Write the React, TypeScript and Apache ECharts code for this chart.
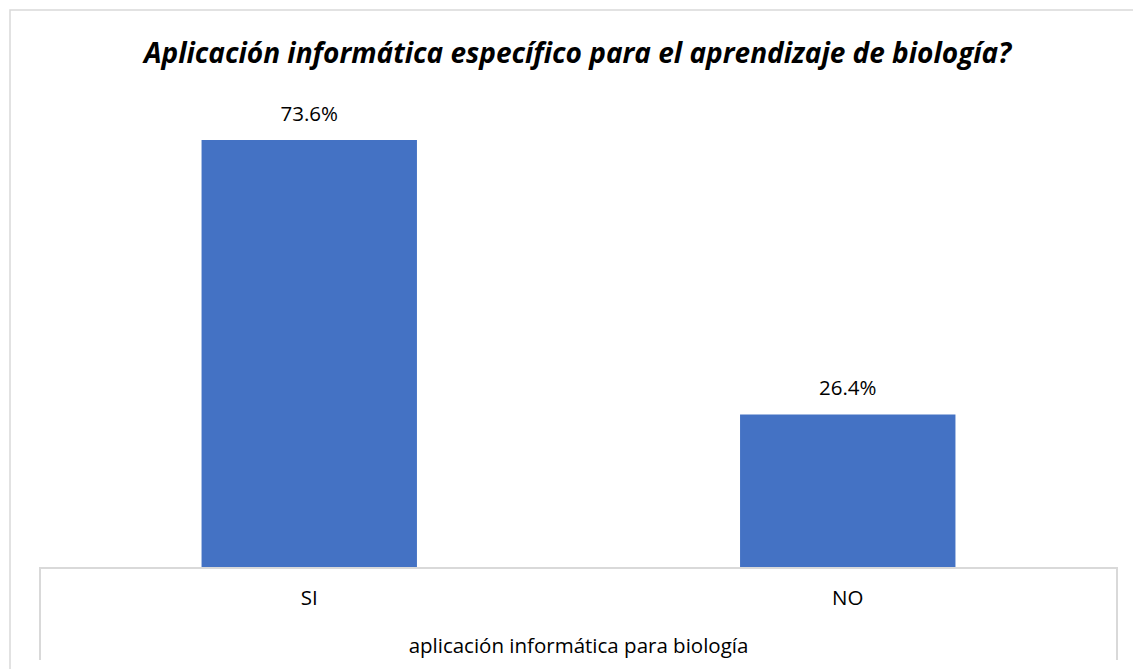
import React, { useEffect, useRef } from "react";
import * as echarts from "echarts";

const categories = ["SI", "NO"];
const values = [73.6, 26.4];
const titleText = "Aplicación informática específico para el aprendizaje de biología?";
const axisTitle = "aplicación informática para biología";

export default function App() {
  const ref = useRef<HTMLDivElement>(null);
  useEffect(() => {
    const chart = echarts.init(ref.current!, null, { renderer: "svg" });
    const font = "'Open Sans', 'Noto Sans', sans-serif";
    chart.setOption({
      animation: false,
      backgroundColor: "#ffffff",
      grid: { left: 40, right: 16, top: 102.8, bottom: 101, containLabel: false },
      xAxis: {
        type: "category",
        data: categories,
        axisLine: { show: false },
        axisTick: { show: false },
        axisLabel: { fontFamily: font, fontSize: 20.5, color: "#000", margin: 18 },
        name: axisTitle,
        nameLocation: "middle",
        nameGap: 66,
        nameTextStyle: { fontFamily: font, fontSize: 20.5, color: "#000" },
      },
      yAxis: {
        type: "value",
        min: 0,
        max: 80,
        show: false,
        splitLine: { show: false },
      },
      series: [
        {
          type: "bar",
          data: values,
          barWidth: "40%",
          itemStyle: { color: "#4472C4" },
          label: {
            show: true,
            position: "top",
            distance: 17,
            formatter: (p: any) => p.value.toFixed(1) + "%",
            fontFamily: font,
            fontSize: 20.5,
            color: "#000",
          },
        },
      ],
      graphic: [
        {
          type: "text",
          x: 577.5,
          y: 52,
          style: {
            text: titleText,
            textAlign: "center",
            textVerticalAlign: "middle",
            font: `italic bold 28px ${font}`,
            fill: "#000000",
          },
        },
        {
          type: "rect",
          shape: { x: 10, y: 10, width: 1140, height: 680 },
          style: { fill: "none", stroke: "#d9d9d9", lineWidth: 1.5 },
          silent: true,
          z: 100,
        },
        {
          type: "polyline",
          shape: { points: [[40, 660], [40, 568], [1117, 568], [1117, 660]] },
          style: { fill: "none", stroke: "#d9d9d9", lineWidth: 2 },
          silent: true,
          z: 100,
        },
      ],
    });
    return () => chart.dispose();
  }, []);
  return (
    <div
      ref={ref}
      style={{ position: "fixed", left: 0, top: 0, width: 1133, height: 669 }}
    />
  );
}
